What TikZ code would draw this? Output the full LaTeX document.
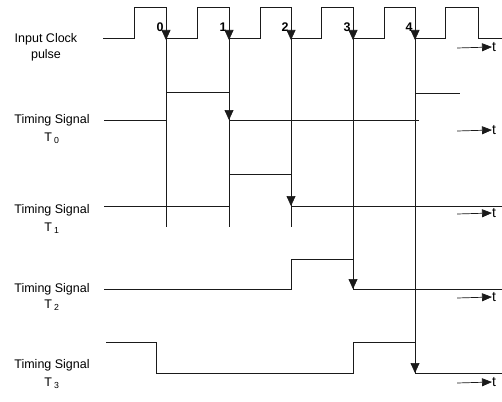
\documentclass[tikz,border=0pt]{standalone}
\usepackage{tikz}
\usetikzlibrary{arrows.meta,positioning,calc}
\usepackage{fontspec}
\setmainfont{Liberation Sans}
\definecolor{ink}{HTML}{1A1A1A}

\begin{document}
\begin{tikzpicture}[x=1pt,y=-1pt,
  wave/.style={draw=ink, line width=0.7pt},
  edge/.style={draw=ink, line width=0.7pt},
  tick/.style={-{Triangle[length=10pt,width=9pt]}, draw=ink, line width=0.7pt},
  tarr/.style={-{Triangle[length=10pt,width=8pt]}, draw=ink, line width=0.7pt},
  lbl/.style={align=center, font=\fontsize{12.5}{15}\selectfont, inner sep=0pt},
  tlbl/.style={font=\fontsize{14}{16}\selectfont, inner sep=0pt, anchor=west},
  num/.style={font=\bfseries\fontsize{12.5}{14}\selectfont, inner sep=0pt}
]
  \useasboundingbox (0,0) rectangle (502,401);

  % signal labels
  \node[lbl] (clk) at (46,47) {Input Clock\\[1pt]pulse};
  \node[lbl] (sig0) at (52,129) {Timing Signal\\[3pt]T\,\textsubscript{0}};
  \node[lbl] (sig1) at (52,219) {Timing Signal\\[3pt]T\,\textsubscript{1}};
  \node[lbl] (sig2) at (52,297) {Timing Signal\\[1pt]T\,\textsubscript{2}};
  \node[lbl] (sig3) at (52,374) {Timing Signal\\[3pt]T\,\textsubscript{3}};

  % clock waveform
  \draw[wave] (103,38) -| (134,7) -| (166,38) -| (197,7) -| (229,38)
    -| (260,7) -| (291,38) -| (321,7) -| (353,38) -| (384,7) -| (415,38)
    -| (445,7) -| (478,38) -- (502,38);

  % falling edge numbers
  \foreach \n/\x in {0/166,1/229,2/291,3/353,4/415}{
    \node[num] (e\n) at (\x-6,27) {\n};
    \coordinate (top\n) at (\x,38);
  }

  % edge markers
  \coordinate (end0) at (166,227);
  \coordinate (end1) at (229,227);
  \coordinate (end2) at (291,227);
  \coordinate (end3) at (353,289);
  \coordinate (end4) at (415,373);
  \foreach \n in {0,...,4}{
    \draw[edge] (top\n) -- (end\n);
    \draw[tick] ($(top\n)+(0,-10)$) -- ($(top\n)+(0,2)$);
  }

  % T0
  \draw[wave] (104,120) -| (166,92) -| (229,120) -- (419,120);
  \draw[wave] (415,120) |- (460,93);
  \draw[tick] (229,108) -- (229,120);

  % T1
  \draw[wave] (104,206) -| (229,174) -| (291,206) -- (502,206);
  \draw[tick] (291,194) -- (291,206);

  % T2
  \draw[wave] (104,289) -| (291,259) -| (353,289) -- (502,289);
  \draw[tick] (353,277) -- (353,289);

  % T3
  \draw[wave] (106,342) -| (156,373) -| (353,342) -| (415,373) -- (502,373);
  \draw[tick] (415,361) -- (415,373);

  % time axes
  \foreach \k/\y in {0/48,1/131,2/214,3/298,4/383}{
    \coordinate (ts\k) at (457,\y);
    \node[tlbl] (t\k) at (492,\y-1) {t};
    \draw[tarr] (ts\k) -- (t\k.west);
  }
\end{tikzpicture}
\end{document}
